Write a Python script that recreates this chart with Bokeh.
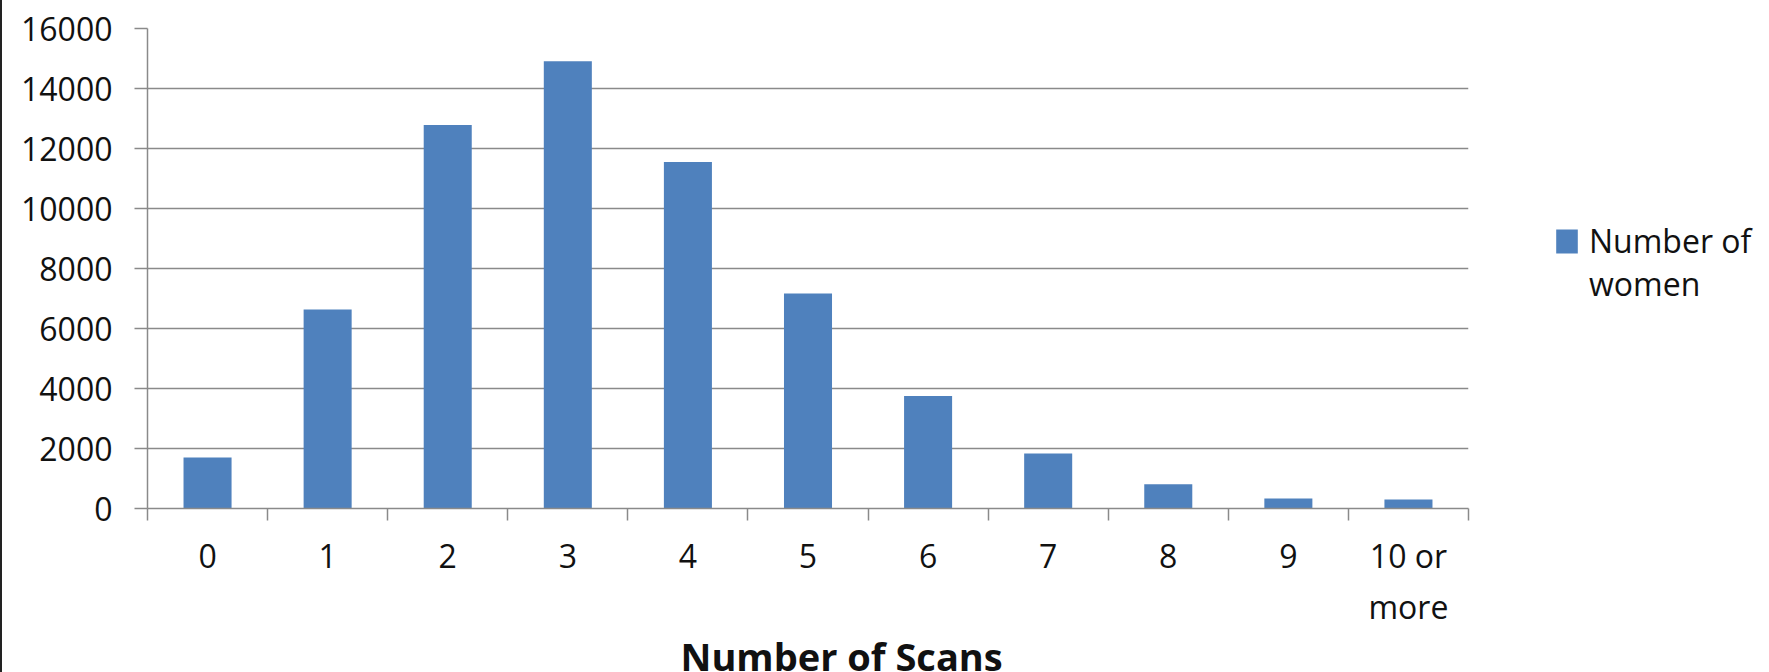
from bokeh.plotting import figure
from bokeh.models import Range1d, FixedTicker, Legend, LegendItem, ColumnDataSource, Title
from bokeh.embed import file_html
from bokeh.resources import INLINE

# ---- data ----
categories = ["0", "1", "2", "3", "4", "5", "6", "7", "8", "9", "10 or\nmore"]
women = [1700, 6630, 12780, 14910, 11550, 7170, 3750, 1830, 810, 330, 300]
y_ticks = [0, 2000, 4000, 6000, 8000, 10000, 12000, 14000, 16000]
series_name_lines = ["Number of", "women"]
x_title = "Number of Scans"

FONT = "Open Sans"
BAR = "#4f81bd"
GRID = "#8a8a8a"

n = len(categories)
centers = [i + 0.5 for i in range(n)]
boundaries = list(range(n + 1))

src = ColumnDataSource(dict(x=centers, top=women, cat=categories))

p = figure(frame_width=1321, frame_height=480,
           output_backend="svg", toolbar_location=None,
           x_range=Range1d(0, n), y_range=Range1d(0, y_ticks[-1]),
           min_border_left=145, min_border_right=290, min_border_top=28,
           min_border_bottom=164)
p.styles = {"border-left": "2px solid #222222"}
p.outline_line_color = None
p.background_fill_color = "white"
p.border_fill_color = "white"

r = p.vbar(x="x", top="top", width=0.4, source=src, fill_color=BAR, line_color=None)
# invisible companion renderer so the legend label can wrap onto a second line
r_blank = p.vbar(x=[], top=[], width=0.4, fill_alpha=0, line_alpha=0)

# y axis
p.yaxis.ticker = FixedTicker(ticks=y_ticks)
p.yaxis.axis_line_color = GRID
p.yaxis.axis_line_width = 1.5
p.yaxis.major_tick_line_color = GRID
p.yaxis.major_tick_line_width = 1.5
p.yaxis.major_tick_out = 13
p.yaxis.major_tick_in = 0
p.yaxis.minor_tick_line_color = None
p.yaxis.major_label_text_font = FONT
p.yaxis.major_label_text_font_size = "32px"
p.yaxis.major_label_text_color = "#111111"
p.yaxis.major_label_standoff = 22

# x axis: labels at centres, tick marks at category boundaries (minor ticks)
p.xaxis.ticker = FixedTicker(ticks=centers, minor_ticks=boundaries)
p.xaxis.major_label_overrides = {c: lab for c, lab in zip(centers, categories)}
p.xaxis.axis_line_color = GRID
p.xaxis.axis_line_width = 1.5
p.xaxis.major_tick_line_color = None
p.xaxis.major_tick_out = 0
p.xaxis.major_tick_in = 0
p.xaxis.minor_tick_line_color = GRID
p.xaxis.minor_tick_line_width = 1.5
p.xaxis.minor_tick_out = 12
p.xaxis.minor_tick_in = 0
p.xaxis.major_label_text_font = FONT
p.xaxis.major_label_text_font_size = "32px"
p.xaxis.major_label_text_color = "#111111"
p.xaxis.major_label_standoff = 13

title = Title(text=x_title, align="left", offset=533, standoff=-8,
              text_font=FONT, text_font_size="38px", text_font_style="bold",
              text_color="#111111")
p.add_layout(title, "below")

p.xgrid.grid_line_color = None
p.ygrid.ticker = FixedTicker(ticks=y_ticks)
p.ygrid.grid_line_color = GRID
p.ygrid.grid_line_width = 1.5

legend = Legend(items=[LegendItem(label=series_name_lines[0], renderers=[r]),
                       LegendItem(label=series_name_lines[1], renderers=[r_blank])],
                location=(85, 203))
legend.padding = 0
legend.margin = 0
legend.spacing = 0
legend.border_line_color = None
legend.background_fill_alpha = 0
legend.glyph_width = 27
legend.glyph_height = 30
legend.label_standoff = 9
legend.label_text_font = FONT
legend.label_text_font_size = "32px"
legend.label_text_color = "#111111"
p.add_layout(legend, "right")

open("out.html", "w").write(file_html(p, INLINE))
